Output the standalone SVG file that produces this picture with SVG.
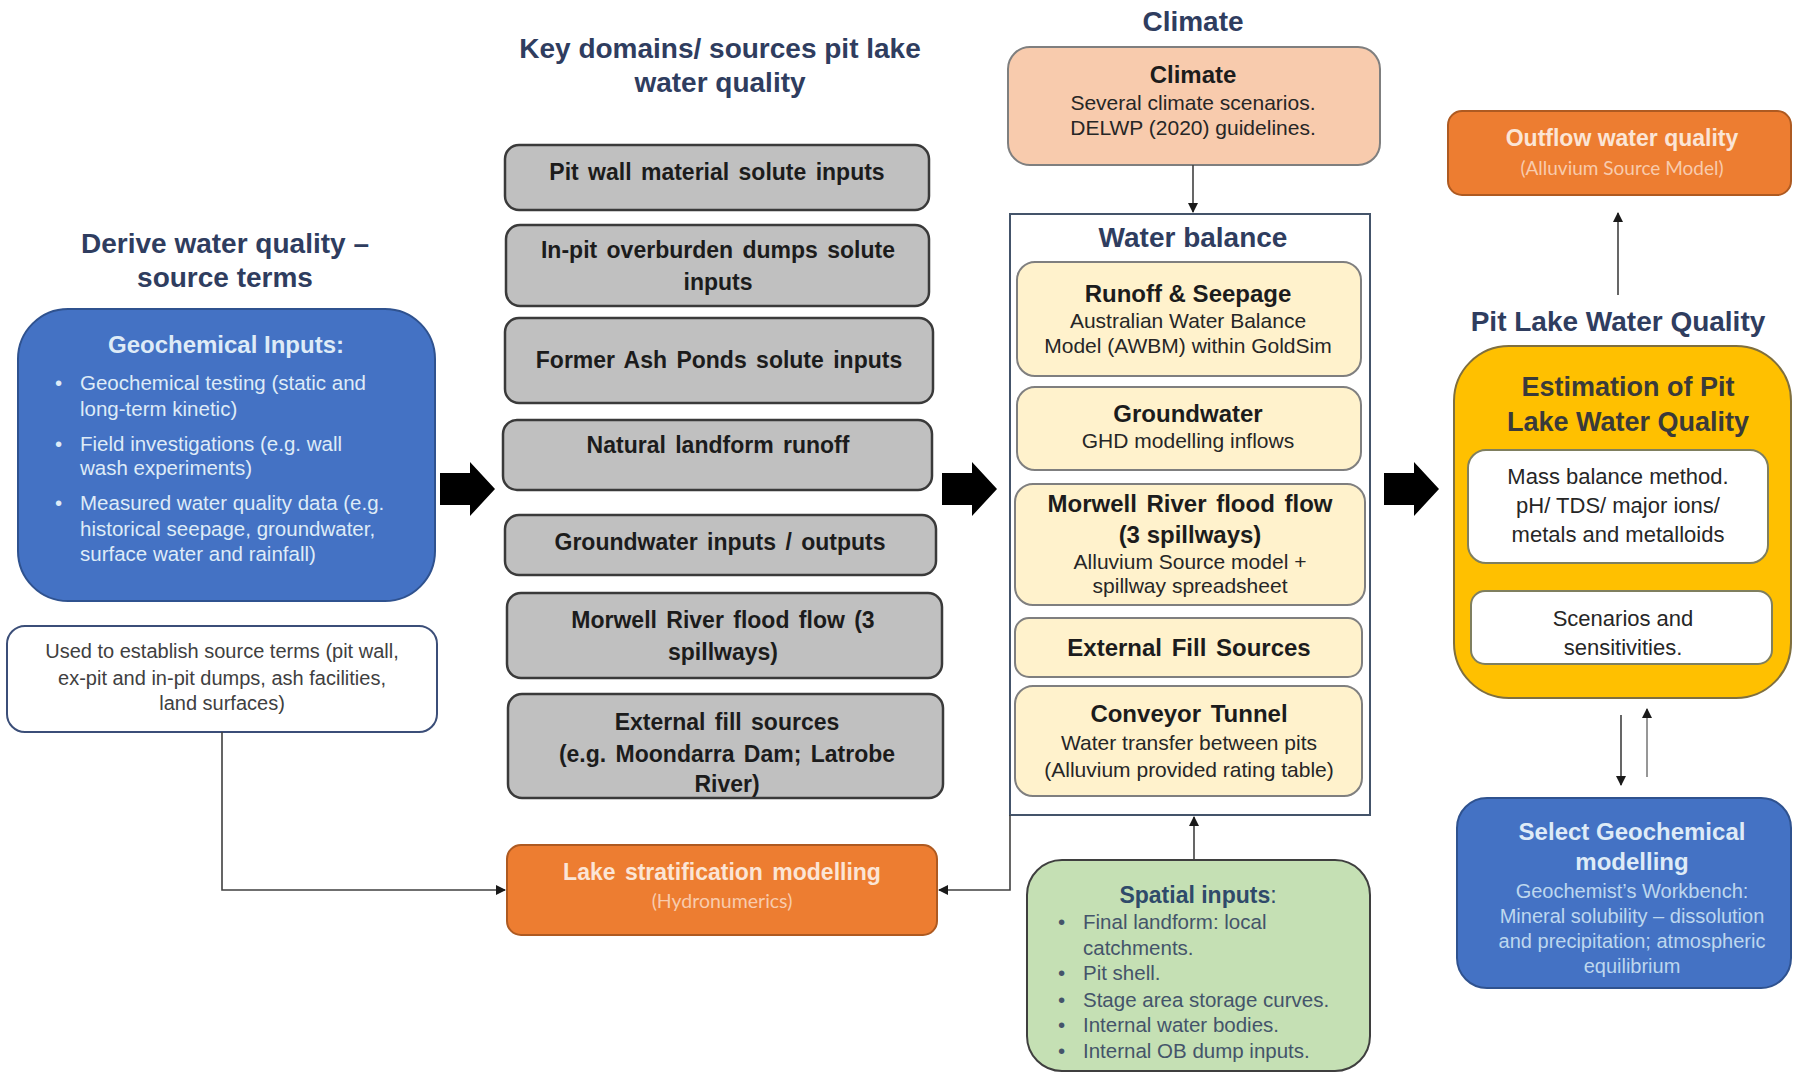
<svg xmlns="http://www.w3.org/2000/svg" width="1793" height="1073" viewBox="0 0 1793 1073">
<defs>
<marker id="ah" viewBox="0 0 10 10" refX="9" refY="5" markerWidth="10" markerHeight="10" markerUnits="userSpaceOnUse" orient="auto"><path d="M0,0 L10,5 L0,10 Z" fill="#1a1a1a"/></marker>
<style>
text{font-family:"Liberation Sans",Arial,sans-serif}
.ttl{font-size:28px;font-weight:bold;fill:#2F3D5F;text-anchor:middle}
.gray rect{fill:#C0C0C0;stroke:#3A3A3A;stroke-width:2.5}
.gray text{font-size:23px;font-weight:bold;fill:#1c1c1c;text-anchor:middle;word-spacing:3px}
.wb rect{fill:#FFF2CC;stroke:#7F7F7F;stroke-width:2}
.hb{font-size:24px;font-weight:bold;fill:#1c1c1c;text-anchor:middle}
.nr{font-size:21px;fill:#262626;text-anchor:middle}
.ln{fill:none;stroke:#404040;stroke-width:1.6}
.blk{fill:#000}
.cal{font-family:Lato,"Open Sans",sans-serif}
</style>
</defs>

<g id="titles">
<text class="ttl" x="225" y="253">Derive water quality –</text>
<text class="ttl" x="225" y="287">source terms</text>
<text class="ttl" x="720" y="58">Key domains/ sources pit lake</text>
<text class="ttl" x="720" y="92">water quality</text>
<text class="ttl" x="1193" y="31">Climate</text>
<text class="ttl" x="1618" y="331">Pit Lake Water Quality</text>
</g>

<g id="geochemical-inputs">
<rect x="18" y="309" width="417" height="292" rx="50" fill="#4472C4" stroke="#2F528F" stroke-width="2"/>
<text x="226" y="353" font-size="24" font-weight="bold" fill="#DEEBF7" text-anchor="middle">Geochemical Inputs:</text>
<g font-size="20.5" fill="#DEEBF7">
<text x="55" y="390">•</text><text x="80" y="390">Geochemical testing (static and</text>
<text x="80" y="416">long-term kinetic)</text>
<text x="55" y="451">•</text><text x="80" y="451">Field investigations (e.g. wall</text>
<text x="80" y="475">wash experiments)</text>
<text x="55" y="510">•</text><text x="80" y="510">Measured water quality data (e.g.</text>
<text x="80" y="536">historical seepage, groundwater,</text>
<text x="80" y="561">surface water and rainfall)</text>
</g>
</g>

<g id="source-terms">
<rect x="7" y="626" width="430" height="106" rx="18" fill="#fff" stroke="#3B4E78" stroke-width="2"/>
<g font-size="20" fill="#404040" text-anchor="middle">
<text x="222" y="658">Used to establish source terms (pit wall,</text>
<text x="222" y="685">ex-pit and in-pit dumps, ash facilities,</text>
<text x="222" y="710">land surfaces)</text>
</g>
</g>

<g id="pit-wall" class="gray"><rect x="505" y="145" width="424" height="65" rx="14"/><text x="717" y="180">Pit wall material solute inputs</text></g>
<g id="in-pit-dumps" class="gray"><rect x="506" y="225" width="423" height="81" rx="14"/><text x="718" y="258">In-pit overburden dumps solute</text><text x="718" y="290">inputs</text></g>
<g id="ash-ponds" class="gray"><rect x="505" y="318" width="428" height="85" rx="14"/><text x="719" y="368">Former Ash Ponds solute inputs</text></g>
<g id="natural-runoff" class="gray"><rect x="503" y="420" width="429" height="70" rx="14"/><text x="718" y="453">Natural landform runoff</text></g>
<g id="groundwater-io" class="gray"><rect x="505" y="515" width="431" height="60" rx="14"/><text x="720" y="550">Groundwater inputs / outputs</text></g>
<g id="morwell-flood" class="gray"><rect x="507" y="593" width="435" height="85" rx="14"/><text x="723" y="628">Morwell River flood flow (3</text><text x="723" y="660">spillways)</text></g>
<g id="external-fill" class="gray"><rect x="508" y="694" width="435" height="104" rx="14"/><text x="727" y="730">External fill sources</text><text x="727" y="762">(e.g. Moondarra Dam; Latrobe</text><text x="727" y="792">River)</text></g>

<g id="lake-stratification">
<rect x="507" y="845" width="430" height="90" rx="14" fill="#ED7D31" stroke="#AE5A21" stroke-width="2"/>
<text x="722" y="880" font-size="23" font-weight="bold" fill="#FBE5D6" text-anchor="middle" word-spacing="3">Lake stratification modelling</text>
<text class="cal" x="722" y="908" font-size="19.5" fill="#F8CBAD" text-anchor="middle">(Hydronumerics)</text>
</g>

<g id="climate">
<rect x="1008" y="47" width="372" height="118" rx="22" fill="#F8CBAD" stroke="#7F7F7F" stroke-width="2"/>
<text class="hb" x="1193" y="83">Climate</text>
<text class="nr" x="1193" y="110">Several climate scenarios.</text>
<text class="nr" x="1193" y="135">DELWP (2020) guidelines.</text>
</g>

<g id="water-balance">
<rect x="1010" y="214" width="360" height="601" fill="#fff" stroke="#44546A" stroke-width="2"/>
<text class="ttl" x="1193" y="247">Water balance</text>
</g>
<g id="runoff-seepage" class="wb"><rect x="1017" y="262" width="344" height="114" rx="18"/>
<text class="hb" x="1188" y="302">Runoff &amp; Seepage</text>
<text class="nr" x="1188" y="328">Australian Water Balance</text>
<text class="nr" x="1188" y="353">Model (AWBM) within GoldSim</text></g>
<g id="groundwater" class="wb"><rect x="1017" y="387" width="344" height="83" rx="18"/>
<text class="hb" x="1188" y="422">Groundwater</text>
<text class="nr" x="1188" y="448">GHD modelling inflows</text></g>
<g id="wb-morwell" class="wb"><rect x="1015" y="484" width="350" height="121" rx="18"/>
<text class="hb" x="1190" y="512" word-spacing="3">Morwell River flood flow</text>
<text class="hb" x="1190" y="543">(3 spillways)</text>
<text class="nr" x="1190" y="569">Alluvium Source model +</text>
<text class="nr" x="1190" y="593">spillway spreadsheet</text></g>
<g id="wb-external-fill" class="wb"><rect x="1015" y="618" width="347" height="59" rx="14"/>
<text class="hb" x="1189" y="656" word-spacing="3">External Fill Sources</text></g>
<g id="conveyor-tunnel" class="wb"><rect x="1015" y="686" width="347" height="110" rx="18"/>
<text class="hb" x="1189" y="722" word-spacing="3">Conveyor Tunnel</text>
<text class="nr" x="1189" y="750">Water transfer between pits</text>
<text class="nr" x="1189" y="777">(Alluvium provided rating table)</text></g>

<g id="spatial-inputs">
<rect x="1027" y="860" width="343" height="211" rx="35" fill="#C5E0B4" stroke="#3F3F3F" stroke-width="2"/>
<text x="1198" y="903" font-size="23" fill="#2F4A6A" text-anchor="middle"><tspan font-weight="bold">Spatial inputs</tspan>:</text>
<g font-size="20.5" fill="#44546A">
<text x="1058" y="929">•</text><text x="1083" y="929">Final landform: local</text>
<text x="1083" y="955">catchments.</text>
<text x="1058" y="980">•</text><text x="1083" y="980">Pit shell.</text>
<text x="1058" y="1007">•</text><text x="1083" y="1007">Stage area storage curves.</text>
<text x="1058" y="1032">•</text><text x="1083" y="1032">Internal water bodies.</text>
<text x="1058" y="1058">•</text><text x="1083" y="1058">Internal OB dump inputs.</text>
</g>
</g>

<g id="outflow">
<rect x="1448" y="111" width="343" height="84" rx="14" fill="#ED7D31" stroke="#AE5A21" stroke-width="2"/>
<text x="1622" y="146" font-size="23" font-weight="bold" fill="#FBE5D6" text-anchor="middle">Outflow water quality</text>
<text class="cal" x="1622" y="175" font-size="19" fill="#F8CBAD" text-anchor="middle">(Alluvium Source Model)</text>
</g>

<g id="estimation">
<rect x="1454" y="346" width="337" height="352" rx="55" fill="#FFC000" stroke="#7F6F3F" stroke-width="2"/>
<text x="1628" y="396" font-size="27" font-weight="bold" fill="#3A3A3A" text-anchor="middle">Estimation of Pit</text>
<text x="1628" y="431" font-size="27" font-weight="bold" fill="#3A3A3A" text-anchor="middle">Lake Water Quality</text>
<rect x="1468" y="450" width="300" height="113" rx="18" fill="#fff" stroke="#7F7F5F" stroke-width="2"/>
<text x="1618" y="484" font-size="22" fill="#262626" text-anchor="middle">Mass balance method.</text>
<text x="1618" y="513" font-size="22" fill="#262626" text-anchor="middle">pH/ TDS/ major ions/</text>
<text x="1618" y="542" font-size="22" fill="#262626" text-anchor="middle">metals and metalloids</text>
<rect x="1471" y="591" width="301" height="73" rx="14" fill="#fff" stroke="#7F7F5F" stroke-width="2"/>
<text x="1623" y="626" font-size="22" fill="#262626" text-anchor="middle">Scenarios and</text>
<text x="1623" y="655" font-size="22" fill="#262626" text-anchor="middle">sensitivities.</text>
</g>

<g id="select-geochemical">
<rect x="1457" y="798" width="334" height="190" rx="30" fill="#4472C4" stroke="#2F528F" stroke-width="2"/>
<text x="1632" y="840" font-size="24" font-weight="bold" fill="#DEEBF7" text-anchor="middle">Select Geochemical</text>
<text x="1632" y="870" font-size="24" font-weight="bold" fill="#DEEBF7" text-anchor="middle">modelling</text>
<g class="cal" font-size="20" fill="#BDD7EE" text-anchor="middle">
<text x="1632" y="898">Geochemist’s Workbench:</text>
<text x="1632" y="923">Mineral solubility – dissolution</text>
<text x="1632" y="948">and precipitation; atmospheric</text>
<text x="1632" y="973">equilibrium</text>
</g>
</g>

<g id="connectors">
<polygon class="blk" points="440,473 470,473 470,462 495,489 470,516 470,505 440,505"/>
<polygon class="blk" points="942,473 972,473 972,462 997,489 972,516 972,505 942,505"/>
<polygon class="blk" points="1384,473 1414,473 1414,462 1439,489 1414,516 1414,505 1384,505"/>
<line class="ln" x1="1193" y1="165" x2="1193" y2="212" marker-end="url(#ah)"/>
<line class="ln" x1="1194" y1="860" x2="1194" y2="817" marker-end="url(#ah)"/>
<polyline class="ln" points="1010,815 1010,890 939,890" marker-end="url(#ah)"/>
<polyline class="ln" points="222,732 222,890 505,890" marker-end="url(#ah)"/>
<line class="ln" x1="1618" y1="295" x2="1618" y2="213" marker-end="url(#ah)"/>
<line class="ln" x1="1621" y1="715" x2="1621" y2="785" marker-end="url(#ah)"/>
<line x1="1647" y1="777" x2="1647" y2="709" stroke="#8C8C8C" stroke-width="1.8" marker-end="url(#ah)"/>
</g>
</svg>
